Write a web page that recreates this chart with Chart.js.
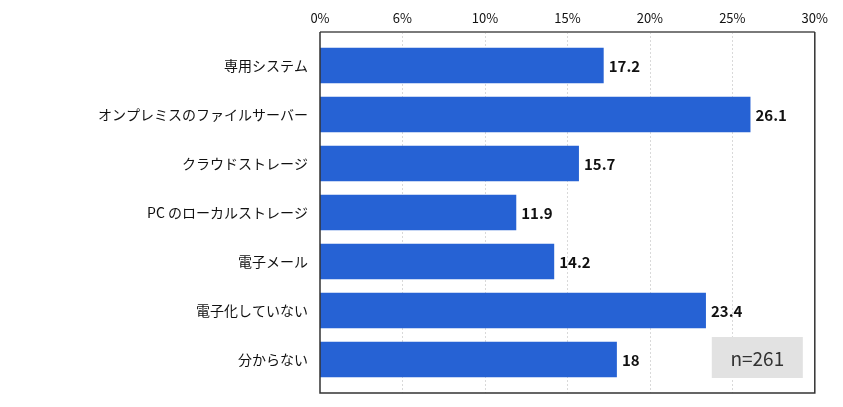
<!DOCTYPE html>
<html>
<head>
<meta charset="utf-8">
<script src="https://cdn.jsdelivr.net/npm/chart.js@4"></script>
<style>
  html, body { margin: 0; padding: 0; background: #fff; }
  #wrap { width: 843px; height: 407px; }
</style>
</head>
<body>
<div id="wrap"><canvas id="grafik" width="843" height="407"></canvas></div>
<script>
const kategori = ['専用システム', 'オンプレミスのファイルサーバー', 'クラウドストレージ', 'PC のローカルストレージ', '電子メール', '電子化していない', '分からない'];
const nilai = [17.2, 26.1, 15.7, 11.9, 14.2, 23.4, 18];
const labelTick = ['0%', '6%', '10%', '15%', '20%', '25%', '30%'];
const catatan = 'n=261';

const FONT = '"Noto Sans CJK JP", "Noto Sans", sans-serif';
const EXTRA = 9; // frame sits a bit outside the bar area

// frame, grid and labels
const hiasan = {
  id: 'hiasan',
  beforeDatasetsDraw(chart) {
    const { ctx, chartArea: a, scales: { x } } = chart;
    const top = a.top - EXTRA, bottom = a.bottom + EXTRA;
    ctx.save();
    ctx.strokeStyle = '#d9d9d9';
    ctx.lineWidth = 1;
    ctx.setLineDash([2, 2]);
    x.ticks.forEach((t, i) => {
      if (i === 0 || i === x.ticks.length - 1) return;
      const px = Math.round(x.getPixelForValue(t.value)) + 0.5;
      ctx.beginPath();
      ctx.moveTo(px, top);
      ctx.lineTo(px, bottom);
      ctx.stroke();
    });
    ctx.restore();
  },
  afterDatasetsDraw(chart) {
    const { ctx, chartArea: a } = chart;
    const top = a.top - EXTRA, bottom = a.bottom + EXTRA;
    ctx.save();
    // frame
    ctx.strokeStyle = '#7a7a7a';
    ctx.lineWidth = 2;
    ctx.beginPath(); ctx.moveTo(a.left, top); ctx.lineTo(a.right, top); ctx.stroke();
    ctx.strokeStyle = '#333';
    ctx.lineWidth = 1.5;
    ctx.beginPath();
    ctx.moveTo(a.left, top); ctx.lineTo(a.left, bottom);
    ctx.lineTo(a.right, bottom); ctx.lineTo(a.right, top);
    ctx.stroke();

    // value labels
    const meta = chart.getDatasetMeta(0);
    ctx.fillStyle = '#111';
    ctx.font = 'bold 15px ' + FONT;
    ctx.textAlign = 'left';
    ctx.textBaseline = 'middle';
    meta.data.forEach((bar, i) => {
      ctx.fillText(String(nilai[i]), bar.x + 5, bar.y + 1);
    });

    // n box
    const bw = 91, bh = 41;
    const bx = a.right - 12 - bw, by = bottom - 15 - bh;
    ctx.fillStyle = '#e2e2e2';
    ctx.fillRect(bx, by, bw, bh);
    ctx.fillStyle = '#333';
    ctx.font = '19px ' + FONT;
    ctx.textAlign = 'center';
    ctx.fillText(catatan, bx + bw / 2, by + bh / 2 + 1);
    ctx.restore();
  }
};

new Chart(document.getElementById('grafik'), {
  type: 'bar',
  data: {
    labels: kategori,
    datasets: [{
      data: nilai,
      backgroundColor: '#2662d4',
      borderWidth: 0,
      barPercentage: 0.72,
      categoryPercentage: 1
    }]
  },
  options: {
    indexAxis: 'y',
    responsive: false,
    animation: false,
    layout: { padding: { top: 0, right: 27, bottom: 23, left: 0 } },
    plugins: { legend: { display: false }, tooltip: { enabled: false } },
    scales: {
      x: {
        position: 'top',
        min: 0,
        max: 30,
        ticks: {
          stepSize: 5,
          padding: 15,
          color: '#111',
          font: { family: FONT, size: 13 },
          callback: (v, i) => labelTick[i]
        },
        grid: { display: false, drawTicks: false },
        border: { display: false },
        afterFit: s => { s.height = 41; }
      },
      y: {
        ticks: {
          padding: 12,
          color: '#111',
          font: { family: FONT, size: 14 }
        },
        grid: { display: false, drawTicks: false },
        border: { display: false },
        afterFit: s => { s.width = 320; }
      }
    }
  },
  plugins: [hiasan]
});
</script>
</body>
</html>
